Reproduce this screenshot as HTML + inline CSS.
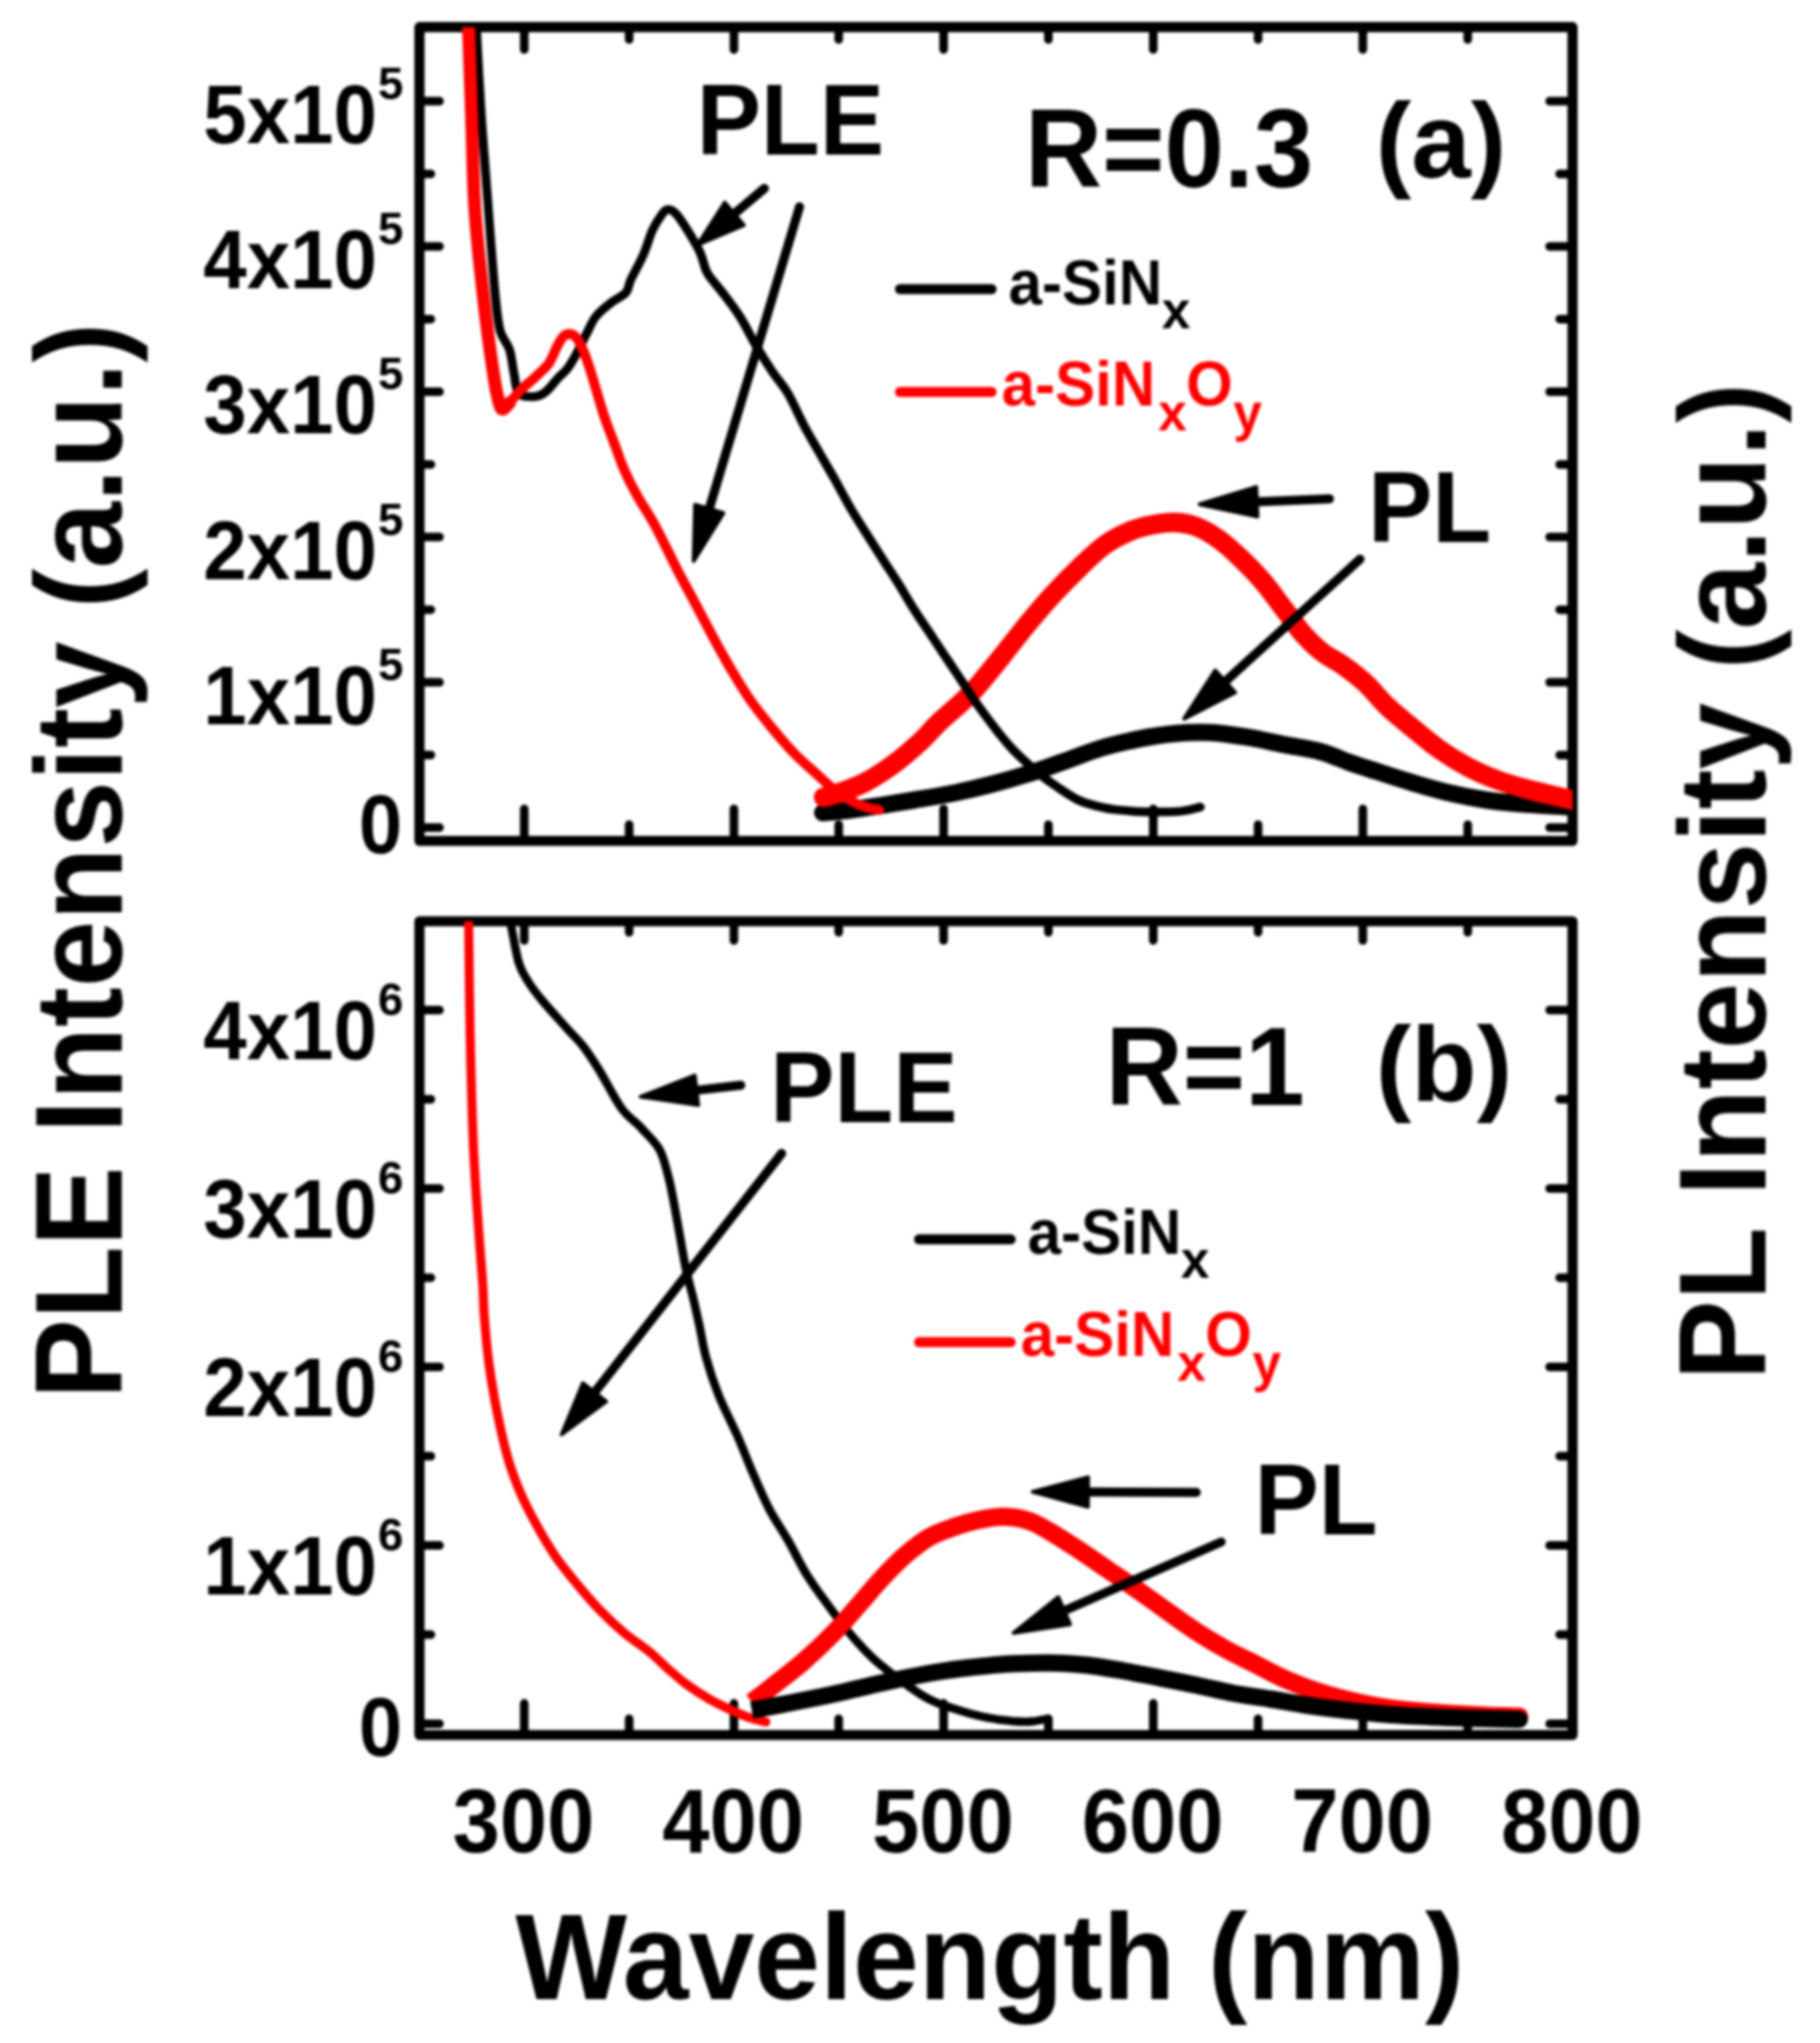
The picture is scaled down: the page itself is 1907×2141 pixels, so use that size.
<!DOCTYPE html>
<html lang="en"><head><meta charset="utf-8"><title>PLE and PL spectra</title>
<style>
html,body{margin:0;padding:0;background:#fff;}
body{width:1907px;height:2141px;overflow:hidden;}
svg{display:block;}
#blur{filter:blur(1.5px);}
</style></head><body>
<svg width="1907" height="2141" viewBox="0 0 1907 2141" font-family='"Liberation Sans", sans-serif' font-weight="bold" fill="#000">
<rect width="1907" height="2141" fill="#fff"/>
<defs><clipPath id="ca"><rect x="439.5" y="28.4" width="1208.2" height="852.9"/></clipPath>
<clipPath id="cb"><rect x="439.5" y="965.5" width="1208.2" height="852.8"/></clipPath></defs>
<g id="blur">
<rect x="439.5" y="28.4" width="1208.2" height="852.9" fill="none" stroke="#000" stroke-width="10.6" stroke-linejoin="round"/>
<path d="M549.3 28.4L549.3 51.9M549.3 881.3L549.3 847.8M659.2 28.4L659.2 41.4M659.2 881.3L659.2 864.3M769.0 28.4L769.0 51.9M769.0 881.3L769.0 847.8M878.8 28.4L878.8 41.4M878.8 881.3L878.8 864.3M988.7 28.4L988.7 51.9M988.7 881.3L988.7 847.8M1098.5 28.4L1098.5 41.4M1098.5 881.3L1098.5 864.3M1208.4 28.4L1208.4 51.9M1208.4 881.3L1208.4 847.8M1318.2 28.4L1318.2 41.4M1318.2 881.3L1318.2 864.3M1428.0 28.4L1428.0 51.9M1428.0 881.3L1428.0 847.8M1537.9 28.4L1537.9 41.4M1537.9 881.3L1537.9 864.3M439.5 867.3L460.5 867.3M1647.7 867.3L1623.7 867.3M439.5 791.2L451.5 791.2M1647.7 791.2L1634.2 791.2M439.5 715.0L460.5 715.0M1647.7 715.0L1623.7 715.0M439.5 638.9L451.5 638.9M1647.7 638.9L1634.2 638.9M439.5 562.8L460.5 562.8M1647.7 562.8L1623.7 562.8M439.5 486.7L451.5 486.7M1647.7 486.7L1634.2 486.7M439.5 410.5L460.5 410.5M1647.7 410.5L1623.7 410.5M439.5 334.4L451.5 334.4M1647.7 334.4L1634.2 334.4M439.5 258.3L460.5 258.3M1647.7 258.3L1623.7 258.3M439.5 182.2L451.5 182.2M1647.7 182.2L1634.2 182.2M439.5 106.0L460.5 106.0M1647.7 106.0L1623.7 106.0" stroke="#000" stroke-width="9.0" stroke-linecap="round" fill="none"/>
<text transform="translate(421.5 894.3) scale(0.980 1.048)" font-size="83.5" text-anchor="end">0</text>
<text transform="translate(395.0 758.9) scale(0.980 1.048)" font-size="83.5" text-anchor="end">1x10</text>
<text transform="translate(396.0 712.9) scale(1.030 1.045)" font-size="46.5">5</text>
<text transform="translate(395.0 606.7) scale(0.980 1.048)" font-size="83.5" text-anchor="end">2x10</text>
<text transform="translate(396.0 560.7) scale(1.030 1.045)" font-size="46.5">5</text>
<text transform="translate(395.0 454.4) scale(0.980 1.048)" font-size="83.5" text-anchor="end">3x10</text>
<text transform="translate(396.0 408.4) scale(1.030 1.045)" font-size="46.5">5</text>
<text transform="translate(395.0 302.2) scale(0.980 1.048)" font-size="83.5" text-anchor="end">4x10</text>
<text transform="translate(396.0 256.2) scale(1.030 1.045)" font-size="46.5">5</text>
<text transform="translate(395.0 149.9) scale(0.980 1.048)" font-size="83.5" text-anchor="end">5x10</text>
<text transform="translate(396.0 103.9) scale(1.030 1.045)" font-size="46.5">5</text>
<g clip-path="url(#ca)">
<path d="M862.0 851.8C866.9 851.3 881.1 850.1 891.5 848.8C901.9 847.5 913.5 845.6 924.5 843.9C935.5 842.2 944.9 840.6 957.5 838.5C970.1 836.4 986.5 833.8 1000.0 831.0C1013.5 828.2 1025.7 825.3 1038.5 822.0C1051.3 818.7 1064.2 815.0 1077.0 811.0C1089.8 807.0 1102.6 802.2 1115.4 797.7C1128.2 793.2 1141.0 787.9 1153.8 784.0C1166.6 780.1 1179.5 777.1 1192.3 774.6C1205.1 772.1 1218.0 769.9 1230.8 768.8C1243.6 767.6 1256.2 767.1 1269.0 767.7C1281.8 768.4 1294.9 770.6 1307.7 772.7C1320.5 774.8 1333.2 777.9 1346.0 780.4C1358.8 782.9 1373.0 784.8 1384.6 788.0C1396.2 791.2 1405.2 796.0 1415.4 799.6C1425.6 803.2 1435.1 806.0 1446.0 809.5C1456.9 813.0 1468.6 816.9 1480.8 820.5C1493.0 824.1 1506.2 828.0 1519.0 831.0C1531.8 834.0 1544.9 836.6 1557.7 838.5C1570.5 840.4 1580.3 841.2 1596.0 842.5C1611.7 843.8 1642.7 845.4 1652.0 846.0" fill="none" stroke="#000" stroke-width="18.0" stroke-linecap="round" stroke-linejoin="round"/>
<path d="M863.0 835.5C865.8 834.7 872.5 833.2 880.0 830.5C887.5 827.8 898.4 824.2 908.0 819.1C917.6 814.0 928.4 806.7 937.7 799.8C947.1 792.9 956.4 784.6 964.1 777.5C971.8 770.4 976.8 763.8 983.9 757.0C991.0 750.2 1000.5 742.6 1007.0 736.5C1013.5 730.4 1015.8 728.7 1023.0 720.5C1030.2 712.3 1041.0 698.7 1050.0 687.5C1059.0 676.3 1068.0 664.3 1077.0 653.5C1086.0 642.7 1094.8 632.2 1103.8 622.5C1112.8 612.8 1121.8 603.6 1130.8 595.0C1139.8 586.4 1148.7 577.4 1157.7 571.0C1166.7 564.6 1176.3 560.0 1184.6 556.5C1192.9 553.0 1200.0 551.5 1207.7 550.0C1215.4 548.5 1223.1 547.2 1230.8 547.5C1238.5 547.8 1246.1 549.1 1253.8 552.0C1261.5 554.9 1269.2 559.5 1276.9 565.0C1284.6 570.5 1292.3 577.7 1300.0 585.0C1307.7 592.3 1315.3 600.0 1323.0 609.0C1330.7 618.0 1338.9 629.8 1346.0 639.0C1353.1 648.2 1359.0 657.2 1365.4 664.5C1371.8 671.8 1377.5 677.3 1384.6 682.8C1391.6 688.3 1400.0 692.2 1407.7 697.7C1415.4 703.2 1423.1 708.9 1430.8 716.0C1438.5 723.1 1445.5 732.6 1453.8 740.5C1462.1 748.4 1471.8 756.1 1480.8 763.5C1489.8 770.9 1498.1 778.2 1507.7 785.0C1517.3 791.8 1528.3 798.6 1538.5 804.0C1548.7 809.4 1558.8 813.7 1569.0 817.5C1579.2 821.3 1589.7 824.2 1600.0 827.0C1610.3 829.8 1622.1 832.4 1630.8 834.5C1639.5 836.6 1648.5 838.7 1652.0 839.5" fill="none" stroke="#f00" stroke-width="20.5" stroke-linecap="round" stroke-linejoin="round"/>
<path d="M499.2 29.9C500.0 44.7 502.5 93.1 504.2 118.9C505.9 144.7 507.5 162.8 509.1 184.8C510.8 206.8 512.5 229.9 514.1 250.8C515.8 271.7 517.4 294.1 519.0 310.0C520.6 325.9 521.5 337.0 524.0 346.4C526.5 355.8 531.3 358.5 533.8 366.2C536.3 373.9 537.1 384.8 538.8 392.5C540.4 400.2 540.1 408.4 543.7 412.3C547.3 416.2 555.5 415.9 560.2 415.6C564.9 415.3 567.7 414.0 571.8 410.7C575.9 407.4 581.2 399.9 585.0 395.8C588.8 391.7 591.5 390.4 594.8 386.0C598.1 381.6 601.4 375.6 604.7 369.5C608.0 363.4 611.3 356.0 614.6 349.7C617.9 343.4 620.1 337.0 624.5 331.5C628.9 326.0 635.8 320.8 641.0 316.7C646.2 312.6 652.5 310.6 655.8 306.8C659.1 303.0 657.8 300.2 660.8 293.6C663.8 287.0 670.2 276.1 674.0 267.3C677.8 258.5 680.5 248.1 683.8 240.9C687.1 233.8 691.0 228.0 693.7 224.4C696.5 220.8 697.8 219.5 700.3 219.5C702.8 219.5 705.3 220.8 708.6 224.4C711.9 228.0 716.0 234.3 720.1 240.9C724.2 247.5 730.0 256.9 733.3 264.0C736.6 271.1 737.7 278.8 739.9 283.7C742.1 288.6 743.2 289.2 746.5 293.6C749.8 298.0 754.8 303.5 759.7 310.1C764.7 316.7 770.7 324.4 776.2 333.2C781.7 342.0 787.1 353.6 792.6 362.9C798.1 372.2 803.6 381.0 809.1 389.2C814.6 397.4 820.1 402.9 825.6 412.3C831.1 421.7 836.6 434.9 842.1 445.3C847.6 455.7 853.1 464.9 858.6 474.5C864.1 484.1 869.5 493.2 875.0 503.0C880.5 512.8 886.0 523.6 891.5 533.0C897.0 542.4 902.5 550.8 908.0 559.5C913.5 568.2 919.0 576.9 924.5 585.5C930.0 594.1 935.3 601.9 941.0 611.0C946.7 620.1 952.4 630.2 958.6 640.0C964.8 649.8 972.4 660.6 978.4 669.7C984.4 678.8 989.3 686.2 994.8 694.4C1000.3 702.6 1006.3 711.7 1011.3 719.1C1016.2 726.5 1019.0 731.2 1024.5 738.9C1030.0 746.6 1038.2 757.6 1044.3 765.3C1050.3 773.0 1055.3 779.1 1060.8 785.0C1066.3 790.9 1071.8 795.8 1077.3 800.7C1082.8 805.7 1088.2 810.4 1093.7 814.7C1099.2 819.0 1104.2 822.3 1110.2 826.3C1116.2 830.3 1123.7 835.5 1130.0 838.5C1136.3 841.5 1141.5 842.8 1148.0 844.5C1154.5 846.2 1159.7 847.5 1169.0 848.5C1178.3 849.5 1192.2 850.5 1203.8 850.8C1215.4 851.0 1229.5 850.8 1238.5 850.0C1247.5 849.2 1254.5 846.5 1257.7 845.8" fill="none" stroke="#000" stroke-width="9.2" stroke-linecap="round" stroke-linejoin="round"/>
<path d="M527.3 428.8C528.4 427.7 530.8 425.5 533.8 422.2C536.8 418.9 540.7 413.7 545.4 409.0C550.1 404.3 557.0 398.9 561.9 394.2C566.8 389.5 571.4 386.0 575.0 381.0C578.6 376.0 580.8 368.7 583.3 364.0C585.8 359.3 587.7 355.3 589.9 353.0C592.1 350.7 594.3 350.0 596.5 350.0C598.7 350.0 600.9 350.7 603.1 353.0C605.3 355.3 607.2 358.5 609.7 364.0C612.2 369.5 614.9 376.9 617.9 386.0C620.9 395.1 625.0 409.9 627.8 418.9C630.5 427.9 631.6 432.1 634.4 440.0C637.1 447.9 641.0 457.6 644.3 466.4C647.6 475.2 650.4 483.9 654.2 492.7C658.1 501.5 661.9 509.2 667.4 519.1C672.9 529.0 680.0 538.9 687.1 552.1C694.2 565.3 703.6 585.4 710.2 598.2C716.8 611.0 720.7 617.6 726.7 629.0C732.8 640.4 739.9 654.3 746.5 666.5C753.1 678.7 759.7 690.9 766.3 702.0C772.9 713.1 778.9 723.2 786.0 733.4C793.1 743.6 801.4 753.8 809.1 763.1C816.8 772.5 824.5 781.5 832.2 789.5C839.9 797.5 848.7 804.9 855.3 810.9C861.9 816.9 865.8 821.0 871.8 825.7C877.8 830.4 885.5 835.5 891.5 838.9C897.5 842.3 903.0 844.6 908.0 846.2C913.0 847.9 919.0 848.4 921.2 848.8" fill="none" stroke="#f00" stroke-width="10.3" stroke-linecap="round" stroke-linejoin="round"/>
<path d="M491.0 30.0C491.5 44.8 492.9 87.6 494.0 118.9C495.1 150.2 495.6 187.6 497.5 217.8C499.4 248.0 502.8 276.6 505.3 300.2C507.8 323.8 510.2 342.6 512.5 359.6C514.8 376.6 517.0 391.7 518.8 402.4C520.6 413.1 522.1 419.5 523.5 423.9C524.9 428.3 525.6 429.1 527.3 428.8C529.0 428.5 532.7 423.3 533.8 422.2" fill="none" stroke="#f00" stroke-width="13.5" stroke-linecap="round" stroke-linejoin="round"/>
</g>
<rect x="439.5" y="965.5" width="1208.2" height="852.8" fill="none" stroke="#000" stroke-width="10.6" stroke-linejoin="round"/>
<path d="M549.3 965.5L549.3 985.5M549.3 1818.3L549.3 1785.1M659.2 965.5L659.2 977.0M659.2 1818.3L659.2 1801.3M769.0 965.5L769.0 985.5M769.0 1818.3L769.0 1785.1M878.8 965.5L878.8 977.0M878.8 1818.3L878.8 1801.3M988.7 965.5L988.7 985.5M988.7 1818.3L988.7 1785.1M1098.5 965.5L1098.5 977.0M1098.5 1818.3L1098.5 1801.3M1208.4 965.5L1208.4 985.5M1208.4 1818.3L1208.4 1785.1M1318.2 965.5L1318.2 977.0M1318.2 1818.3L1318.2 1801.3M1428.0 965.5L1428.0 985.5M1428.0 1818.3L1428.0 1785.1M1537.9 965.5L1537.9 977.0M1537.9 1818.3L1537.9 1801.3M439.5 1806.5L460.5 1806.5M1647.7 1806.5L1623.7 1806.5M439.5 1713.0L451.5 1713.0M1647.7 1713.0L1634.2 1713.0M439.5 1619.5L460.5 1619.5M1647.7 1619.5L1623.7 1619.5M439.5 1526.0L451.5 1526.0M1647.7 1526.0L1634.2 1526.0M439.5 1432.5L460.5 1432.5M1647.7 1432.5L1623.7 1432.5M439.5 1339.0L451.5 1339.0M1647.7 1339.0L1634.2 1339.0M439.5 1245.5L460.5 1245.5M1647.7 1245.5L1623.7 1245.5M439.5 1152.0L451.5 1152.0M1647.7 1152.0L1634.2 1152.0M439.5 1058.5L460.5 1058.5M1647.7 1058.5L1623.7 1058.5" stroke="#000" stroke-width="9.0" stroke-linecap="round" fill="none"/>
<text transform="translate(421.5 1840.2) scale(0.980 1.048)" font-size="83.5" text-anchor="end">0</text>
<text transform="translate(395.0 1670.5) scale(0.980 1.048)" font-size="83.5" text-anchor="end">1x10</text>
<text transform="translate(396.0 1624.5) scale(1.030 1.045)" font-size="46.5">6</text>
<text transform="translate(395.0 1483.5) scale(0.980 1.048)" font-size="83.5" text-anchor="end">2x10</text>
<text transform="translate(396.0 1437.5) scale(1.030 1.045)" font-size="46.5">6</text>
<text transform="translate(395.0 1296.5) scale(0.980 1.048)" font-size="83.5" text-anchor="end">3x10</text>
<text transform="translate(396.0 1250.5) scale(1.030 1.045)" font-size="46.5">6</text>
<text transform="translate(395.0 1109.5) scale(0.980 1.048)" font-size="83.5" text-anchor="end">4x10</text>
<text transform="translate(396.0 1063.5) scale(1.030 1.045)" font-size="46.5">6</text>
<g clip-path="url(#cb)">
<path d="M535.5 969.8C536.9 976.4 540.7 999.4 543.7 1009.3C546.7 1019.2 549.5 1022.4 553.6 1029.0C557.7 1035.6 561.6 1040.6 568.5 1048.9C575.4 1057.2 587.7 1070.6 594.8 1078.6C601.9 1086.6 605.8 1089.6 611.3 1096.7C616.8 1103.8 621.2 1110.7 627.8 1121.4C634.4 1132.1 643.8 1151.1 650.9 1161.0C658.0 1170.9 664.7 1174.5 670.7 1180.8C676.7 1187.1 683.3 1194.0 687.1 1198.9C690.9 1203.8 691.2 1203.6 693.7 1210.4C696.2 1217.2 699.2 1227.9 702.0 1240.0C704.8 1252.1 707.5 1268.2 710.2 1283.0C713.0 1297.8 715.8 1315.8 718.5 1329.0C721.2 1342.2 724.3 1351.8 726.7 1362.0C729.1 1372.2 730.8 1379.8 733.0 1390.0C735.2 1400.2 736.5 1410.8 739.9 1422.9C743.2 1435.0 747.6 1448.7 753.1 1462.4C758.6 1476.1 766.9 1491.6 772.9 1505.3C778.9 1519.0 783.8 1532.2 789.3 1544.8C794.8 1557.4 799.8 1569.6 805.8 1581.1C811.8 1592.6 819.0 1602.5 825.6 1614.0C832.2 1625.5 838.2 1638.8 845.4 1650.3C852.5 1661.8 860.8 1672.8 868.5 1683.3C876.2 1693.8 883.8 1703.9 891.5 1713.0C899.2 1722.1 906.4 1730.0 914.6 1737.7C922.9 1745.4 932.4 1752.5 941.0 1759.0C949.6 1765.5 959.1 1772.1 966.0 1776.4C972.9 1780.7 976.9 1782.4 982.4 1784.7C987.9 1787.0 993.4 1788.6 998.9 1790.4C1004.4 1792.2 1009.9 1793.9 1015.4 1795.4C1020.9 1796.9 1026.4 1798.3 1031.9 1799.5C1037.4 1800.7 1042.9 1801.5 1048.4 1802.3C1053.9 1803.0 1059.3 1803.7 1064.8 1804.0C1070.3 1804.3 1075.8 1804.5 1081.3 1804.0C1086.8 1803.5 1095.0 1801.7 1097.8 1801.2" fill="none" stroke="#000" stroke-width="8.8" stroke-linecap="round" stroke-linejoin="round"/>
<path d="M491.0 964.8C491.3 984.3 491.8 1043.2 492.6 1081.9C493.4 1120.7 494.5 1164.3 495.9 1197.3C497.3 1230.3 499.2 1255.0 500.9 1279.7C502.5 1304.4 504.7 1328.9 505.8 1345.6C506.9 1362.3 506.4 1366.0 507.5 1380.0C508.6 1394.0 510.2 1413.0 512.4 1429.5C514.6 1446.0 517.4 1462.4 520.7 1478.9C524.0 1495.4 528.1 1514.1 532.2 1528.4C536.3 1542.7 540.5 1553.1 545.4 1564.6C550.3 1576.1 555.9 1586.6 561.9 1597.6C567.9 1608.6 574.5 1620.1 581.6 1630.5C588.7 1640.9 597.0 1650.9 604.7 1660.2C612.4 1669.5 619.5 1678.1 627.8 1686.6C636.0 1695.1 645.4 1703.9 654.2 1711.3C663.0 1718.7 672.9 1724.8 680.6 1731.1C688.3 1737.4 693.7 1743.4 700.3 1749.2C706.9 1755.0 713.0 1760.5 720.1 1765.7C727.2 1770.9 735.5 1776.2 743.2 1780.6C750.9 1785.0 759.2 1788.8 766.3 1792.1C773.4 1795.4 780.0 1798.2 786.0 1800.3C792.0 1802.4 799.8 1803.9 802.5 1804.6" fill="none" stroke="#f00" stroke-width="9.5" stroke-linecap="round" stroke-linejoin="round"/>
<path d="M787.7 1783.9C791.3 1781.2 800.0 1774.6 809.1 1767.4C818.2 1760.2 831.1 1750.6 842.1 1741.0C853.1 1731.4 865.2 1719.9 875.1 1709.7C885.0 1699.5 893.2 1689.3 901.4 1680.0C909.6 1670.7 916.8 1661.8 924.5 1653.6C932.2 1645.3 939.4 1637.6 947.6 1630.5C955.9 1623.4 965.2 1615.9 974.0 1610.8C982.8 1605.7 992.1 1602.9 1000.3 1600.0C1008.5 1597.1 1014.7 1595.2 1023.0 1593.5C1031.3 1591.8 1041.0 1589.6 1050.0 1589.6C1059.0 1589.6 1068.7 1590.9 1077.0 1593.5C1085.3 1596.1 1091.0 1599.8 1100.0 1605.0C1109.0 1610.2 1120.5 1617.8 1130.8 1624.5C1141.0 1631.2 1151.2 1638.5 1161.5 1645.5C1171.8 1652.5 1182.0 1659.3 1192.3 1666.5C1202.5 1673.7 1212.8 1681.2 1223.0 1688.5C1233.2 1695.8 1243.5 1703.3 1253.8 1710.0C1264.1 1716.7 1274.3 1722.8 1284.6 1728.5C1294.9 1734.2 1305.2 1738.8 1315.4 1744.0C1325.6 1749.2 1335.7 1754.9 1346.0 1759.5C1356.3 1764.1 1366.7 1768.0 1377.0 1771.5C1387.3 1775.0 1396.8 1777.8 1407.7 1780.5C1418.6 1783.2 1430.1 1785.9 1442.3 1788.0C1454.5 1790.1 1468.0 1791.7 1480.8 1793.0C1493.6 1794.3 1506.2 1795.2 1519.0 1796.0C1531.8 1796.8 1545.5 1797.5 1557.7 1798.0C1569.9 1798.5 1586.3 1798.8 1592.0 1799.0" fill="none" stroke="#f00" stroke-width="19.0" stroke-linecap="butt" stroke-linejoin="round"/>
<circle cx="1592" cy="1799" r="9.5" fill="#f00"/>
<path d="M787.7 1792.1C794.0 1790.9 811.0 1787.8 825.6 1785.0C840.2 1782.2 858.6 1778.6 875.1 1775.0C891.6 1771.4 908.0 1767.1 924.5 1763.5C941.0 1759.9 961.4 1755.8 974.0 1753.5C986.6 1751.2 990.5 1750.8 1000.0 1749.5C1009.5 1748.2 1020.5 1747.0 1030.8 1746.0C1041.0 1745.0 1050.0 1744.0 1061.5 1743.5C1073.0 1743.0 1087.2 1742.5 1100.0 1742.7C1112.8 1743.0 1125.7 1743.6 1138.5 1745.0C1151.3 1746.4 1164.2 1748.8 1177.0 1751.0C1189.8 1753.2 1202.6 1755.8 1215.4 1758.3C1228.2 1760.8 1241.0 1763.3 1253.8 1766.0C1266.6 1768.7 1279.5 1772.1 1292.3 1774.5C1305.1 1776.9 1318.0 1778.4 1330.8 1780.5C1343.6 1782.6 1356.2 1785.1 1369.0 1787.0C1381.8 1788.9 1392.3 1790.3 1407.7 1792.0C1423.1 1793.7 1443.0 1796.0 1461.5 1797.3C1480.0 1798.6 1497.2 1799.2 1519.0 1800.0C1540.8 1800.8 1579.8 1801.7 1592.0 1802.0" fill="none" stroke="#000" stroke-width="18.0" stroke-linecap="butt" stroke-linejoin="round"/>
<circle cx="1592" cy="1802" r="9" fill="#000"/>
</g>
<line x1="800.9" y1="197.5" x2="767.5" y2="225.7" stroke="#000" stroke-width="9.5" stroke-linecap="round"/>
<path d="M731.2 256.4 L759.4 212.3 L779.4 236.0 Z" fill="#000" stroke="#000" stroke-width="4" stroke-linejoin="round"/>
<line x1="837.7" y1="216.8" x2="742.4" y2="535.7" stroke="#000" stroke-width="9.5" stroke-linecap="round"/>
<path d="M726.8 587.9 L728.3 528.9 L758.0 537.7 Z" fill="#000" stroke="#000" stroke-width="4" stroke-linejoin="round"/>
<line x1="1393.0" y1="522.7" x2="1314.4" y2="526.0" stroke="#000" stroke-width="9.5" stroke-linecap="round"/>
<path d="M1257.0 528.5 L1316.3 510.4 L1317.6 541.4 Z" fill="#000" stroke="#000" stroke-width="4" stroke-linejoin="round"/>
<line x1="1425.0" y1="586.0" x2="1281.9" y2="715.9" stroke="#000" stroke-width="9.5" stroke-linecap="round"/>
<path d="M1240.8 753.2 L1273.3 702.7 L1294.1 725.7 Z" fill="#000" stroke="#000" stroke-width="4" stroke-linejoin="round"/>
<line x1="776.2" y1="1137.3" x2="727.3" y2="1142.9" stroke="#000" stroke-width="9.5" stroke-linecap="round"/>
<path d="M671.2 1149.3 L728.0 1127.2 L731.6 1158.0 Z" fill="#000" stroke="#000" stroke-width="4" stroke-linejoin="round"/>
<line x1="819.0" y1="1208.8" x2="621.5" y2="1461.1" stroke="#000" stroke-width="9.5" stroke-linecap="round"/>
<path d="M588.5 1503.2 L610.8 1449.6 L635.2 1468.7 Z" fill="#000" stroke="#000" stroke-width="4" stroke-linejoin="round"/>
<line x1="1253.5" y1="1564.0" x2="1137.5" y2="1563.6" stroke="#000" stroke-width="9.5" stroke-linecap="round"/>
<path d="M1082.0 1563.4 L1140.1 1548.1 L1139.9 1579.1 Z" fill="#000" stroke="#000" stroke-width="4" stroke-linejoin="round"/>
<line x1="1279.5" y1="1616.0" x2="1112.8" y2="1689.0" stroke="#000" stroke-width="9.5" stroke-linecap="round"/>
<path d="M1062.0 1711.3 L1108.9 1673.8 L1121.3 1702.2 Z" fill="#000" stroke="#000" stroke-width="4" stroke-linejoin="round"/>
<text transform="translate(730.0 161.5) scale(1.000 1.045)" font-size="101.0">PLE</text>
<text transform="translate(1074.0 196.0) scale(1.000 1.045)" font-size="112.0">R=0.3</text>
<text transform="translate(1441.5 185.7) scale(1.000 1.000)" font-size="112.0">(a)</text>
<text transform="translate(1433.5 567.5) scale(1.000 1.045)" font-size="101.0">PL</text>
<text transform="translate(807.0 1176.3) scale(1.000 1.045)" font-size="101.0">PLE</text>
<text transform="translate(1158.5 1157.6) scale(1.000 1.045)" font-size="112.0">R=1</text>
<text transform="translate(1441.5 1153.6) scale(1.000 1.000)" font-size="112.0">(b)</text>
<text transform="translate(1314.5 1608.0) scale(1.000 1.045)" font-size="101.0">PL</text>
<line x1="943.0" y1="303.0" x2="1039.0" y2="303.0" stroke="#000" stroke-width="10.5" stroke-linecap="round"/>
<text transform="translate(1056.8 318.5) scale(1.000 1.045)" font-size="63.0">a-SiN</text>
<text transform="translate(1217.2 343.5) scale(1.000 1.045)" font-size="54.0">x</text>
<line x1="943.0" y1="410.7" x2="1039.0" y2="410.7" stroke="#f00" stroke-width="10.5" stroke-linecap="round"/>
<text transform="translate(1049.5 424.7) scale(1.000 1.045)" font-size="63.0" fill="#f00">a-SiN</text>
<text transform="translate(1213.5 450.7) scale(1.000 1.045)" font-size="54.0" fill="#f00">x</text>
<text transform="translate(1242.7 424.7) scale(1.000 1.045)" font-size="63.0" fill="#f00">O</text>
<text transform="translate(1292.2 451.2) scale(1.000 1.045)" font-size="54.0" fill="#f00">y</text>
<line x1="963.0" y1="1298.8" x2="1059.0" y2="1298.8" stroke="#000" stroke-width="10.5" stroke-linecap="round"/>
<text transform="translate(1076.8 1314.3) scale(1.000 1.045)" font-size="63.0">a-SiN</text>
<text transform="translate(1237.2 1339.3) scale(1.000 1.045)" font-size="54.0">x</text>
<line x1="963.0" y1="1406.5" x2="1059.0" y2="1406.5" stroke="#f00" stroke-width="10.5" stroke-linecap="round"/>
<text transform="translate(1069.5 1420.5) scale(1.000 1.045)" font-size="63.0" fill="#f00">a-SiN</text>
<text transform="translate(1233.5 1446.5) scale(1.000 1.045)" font-size="54.0" fill="#f00">x</text>
<text transform="translate(1262.7 1420.5) scale(1.000 1.045)" font-size="63.0" fill="#f00">O</text>
<text transform="translate(1312.2 1447.0) scale(1.000 1.045)" font-size="54.0" fill="#f00">y</text>
<text transform="translate(548.6 1940.5) scale(0.990 1.050)" font-size="90.0" text-anchor="middle">300</text>
<text transform="translate(768.3 1940.5) scale(0.990 1.050)" font-size="90.0" text-anchor="middle">400</text>
<text transform="translate(988.0 1940.5) scale(0.990 1.050)" font-size="90.0" text-anchor="middle">500</text>
<text transform="translate(1207.7 1940.5) scale(0.990 1.050)" font-size="90.0" text-anchor="middle">600</text>
<text transform="translate(1427.3 1940.5) scale(0.990 1.050)" font-size="90.0" text-anchor="middle">700</text>
<text transform="translate(1647.0 1940.5) scale(0.990 1.050)" font-size="90.0" text-anchor="middle">800</text>
<text transform="translate(540.0 2095.0) scale(1.000 1.030)" font-size="124.0">Wavelength (nm)</text>
<text transform="translate(128.0 1466.0) rotate(-90) scale(1.000 1.030)" font-size="125.3">PLE Intensity (a.u.)</text>
<text transform="translate(1850.4 1446.5) rotate(-90) scale(1.000 1.030)" font-size="125.7">PL Intensity (a.u.)</text>
</g>
</svg>
</body></html>
